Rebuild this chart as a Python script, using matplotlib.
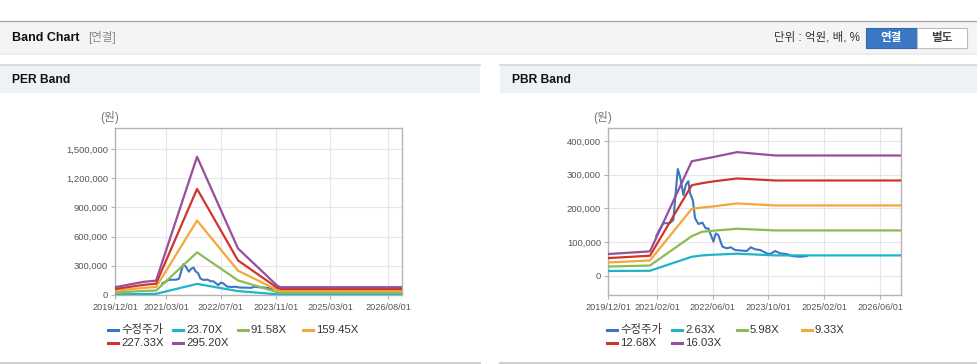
import matplotlib
matplotlib.use("Agg")
import matplotlib.pyplot as plt
import matplotlib.dates as mdates
import pandas as pd
from matplotlib.lines import Line2D
from matplotlib.patches import Rectangle
from matplotlib.ticker import FuncFormatter

plt.rcParams["font.family"] = ["Liberation Sans", "Noto Sans CJK KR", "DejaVu Sans"]

W, H = 978, 364

# ---- PER band data (원) ----
per_dates = ["2019-12-01", "2020-08-15", "2020-12-01", "2021-12-01",
             "2022-12-01", "2023-11-15", "2023-12-15", "2026-12-01"]
per_2370 = [6400, 10900, 11900, 114000, 40000, 7700, 6400, 6400]
per_9158 = [24800, 42100, 45800, 438000, 150000, 29800, 24800, 24800]
per_15945 = [43200, 73300, 82000, 765000, 250000, 51800, 43200, 43200]
per_22733 = [61600, 104600, 116000, 1090000, 355000, 73900, 61600, 61600]
per_29520 = [80000, 135800, 147600, 1420000, 478000, 96000, 80000, 80000]
per_labels = ["23.70X", "91.58X", "159.45X", "227.33X", "295.20X"]
per_ticks = ["2019-12-01", "2021-03-01", "2022-07-01", "2023-11-01", "2025-03-01", "2026-08-01"]

# ---- PBR band data (원) ----
pbr_dates = ["2019-12-01", "2020-12-01", "2021-12-01", "2022-03-01",
             "2022-06-01", "2023-01-01", "2023-12-01", "2026-12-01"]
pbr_263 = [15000, 15500, 57000, 61000, 63000, 66000, 61000, 61000]
pbr_598 = [28000, 31000, 118000, 131000, 134000, 140000, 135000, 135000]
pbr_933 = [40000, 46000, 199000, 203000, 206000, 215000, 209000, 209000]
pbr_1268 = [53000, 60000, 269000, 275000, 280000, 289000, 283000, 283000]
pbr_1603 = [65000, 73000, 340000, 346000, 352000, 367000, 357000, 357000]
pbr_labels = ["2.63X", "5.98X", "9.33X", "12.68X", "16.03X"]
pbr_ticks = ["2019-12-01", "2021-02-01", "2022-06-01", "2023-10-01", "2025-02-01", "2026-06-01"]

# ---- adjusted price (수정주가) ----
price_dates = ["2021-01-25", "2021-02-12", "2021-03-28", "2021-05-25", "2021-06-23",
               "2021-08-01", "2021-08-21", "2021-09-19", "2021-10-10", "2021-11-01",
               "2021-11-16", "2021-12-10", "2021-12-30", "2022-01-28", "2022-03-04",
               "2022-04-02", "2022-04-25", "2022-06-08", "2022-06-29", "2022-07-21",
               "2022-08-25", "2022-10-03", "2022-11-07", "2022-12-14", "2023-03-26",
               "2023-04-30", "2023-06-07", "2023-07-21", "2023-09-17", "2023-10-16",
               "2023-11-29", "2024-01-11", "2024-03-10", "2024-04-22", "2024-07-04",
               "2024-08-31"]
price_vals = [118000, 131000, 156000, 157000, 166000,
              317000, 294000, 240000, 270000, 281000,
              245000, 225000, 171000, 154000, 158000,
              141000, 141000, 102000, 126000, 121000,
              87000, 82000, 85000, 77000, 74000,
              85000, 79000, 77000, 67000, 65000,
              74000, 67000, 65000, 59000, 57000,
              59000]

colors = ["#3a76c4", "#1fb4c8", "#8dba55", "#f4a73a", "#d0352c", "#964f9c"]


def fx(px):
    return px / W


def fy(py):
    return 1 - py / H


def box(fig, x0, y0, x1, y1, color, edge=None):
    fig.patches.append(Rectangle((fx(x0), fy(y1)), fx(x1) - fx(x0), fy(y0) - fy(y1),
                                 transform=fig.transFigure, facecolor=color,
                                 edgecolor=edge if edge else "none", lw=0.8, zorder=0))


def hline(fig, x0, x1, y, color, lw=1.0):
    fig.add_artist(Line2D([fx(x0), fx(x1)], [fy(y), fy(y)], transform=fig.transFigure,
                          color=color, lw=lw))


fig = plt.figure(figsize=(W / 100, H / 100), dpi=100)
fig.patch.set_facecolor("white")

# Header bar
box(fig, 0, 21, W, 52, "#f4f4f4")
hline(fig, 0, W, 21, "#a8a8a8", 1.0)
hline(fig, 0, W, 52.5, "#cfcfcf", 1.0)
hline(fig, 0, W, 54, "#ececec", 1.5)
fig.text(fx(12), fy(38), "Band Chart", fontsize=9, fontweight="bold", color="#111", va="center")
fig.text(fx(88), fy(38), "[연결]", fontsize=8.3, color="#888", va="center")
fig.text(fx(860), fy(38), "단위 : 억원, 배, %", fontsize=8.3, color="#333", va="center", ha="right")
box(fig, 866, 28, 917, 48, "#3a78c4", "#2f68ad")
box(fig, 917, 28, 967, 48, "white", "#bdbdbd")
fig.text(fx(891.5), fy(38), "연결", fontsize=8.3, fontweight="bold", color="white", va="center", ha="center")
fig.text(fx(942), fy(38), "별도", fontsize=8.3, fontweight="bold", color="#444", va="center", ha="center")

# Panel title bars and bottom borders
for x0, x1, title in [(0, 480, "PER Band"), (500, W, "PBR Band")]:
    box(fig, x0, 64, x1, 93, "#eef2f7")
    hline(fig, x0, x1, 64.5, "#d6d6d6", 1.2)
    hline(fig, x0, x1, 362.5, "#d0d0d0", 1.5)
    fig.text(fx(x0 + 12), fy(80), title, fontsize=8.7, fontweight="bold", color="#111", va="center")


def draw_panel(left, right, band_dates, bands, ticks, yticks, ylim, legend_x, labels):
    ax = fig.add_axes([fx(left), fy(295), fx(right) - fx(left), fy(128) - fy(295)])
    ax.plot(pd.to_datetime(price_dates), price_vals, color=colors[0], lw=1.5, zorder=3)
    bd = pd.to_datetime(band_dates)
    for vals, c in zip(bands, colors[1:]):
        ax.plot(bd, vals, color=c, lw=1.6, zorder=3)

    ax.set_xlim(pd.Timestamp("2019-12-01"), pd.Timestamp("2026-12-01"))
    ax.set_ylim(*ylim)
    ax.set_xticks(pd.to_datetime(ticks))
    ax.xaxis.set_major_formatter(mdates.DateFormatter("%Y/%m/%d"))
    ax.set_yticks(yticks)
    ax.yaxis.set_major_formatter(FuncFormatter(lambda v, p: f"{int(v):,}"))
    ax.grid(True, color="#e6e6e6", lw=0.8, zorder=0)
    for s in ax.spines.values():
        s.set_color("#b4b4b4")
        s.set_linewidth(1.0)
    ax.tick_params(axis="both", colors="#b4b4b4", labelcolor="#555", length=3, width=0.8)
    ax.tick_params(axis="x", labelsize=6.6, pad=3)
    ax.tick_params(axis="y", labelsize=6.8, pad=2)
    fig.text(fx(left - 15), fy(117), "(원)", fontsize=8.5, color="#777", ha="left", va="center")

    # Legend, 4 items per row
    names = ["수정주가"] + labels
    for i, (name, c) in enumerate(zip(names, colors)):
        lx = legend_x + (i % 4) * 65
        ly = 330 + (i // 4) * 13
        fig.add_artist(Line2D([fx(lx), fx(lx + 10)], [fy(ly), fy(ly)], transform=fig.transFigure,
                              color=c, lw=2.2))
        fig.text(fx(lx + 13), fy(ly), name, fontsize=8.2, color="#333", va="center")
    return ax


draw_panel(115, 402, per_dates, [per_2370, per_9158, per_15945, per_22733, per_29520],
           per_ticks, range(0, 1500001, 300000), (0, 1716000), 108, per_labels)
draw_panel(608, 901, pbr_dates, [pbr_263, pbr_598, pbr_933, pbr_1268, pbr_1603],
           pbr_ticks, range(0, 400001, 100000), (-56300, 438500), 607, pbr_labels)

plt.savefig("out.png", dpi=100)
